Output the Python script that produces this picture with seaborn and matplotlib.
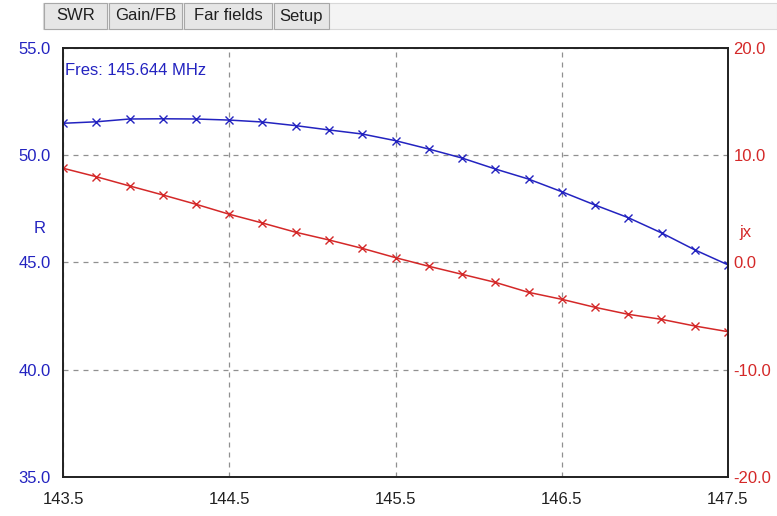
import matplotlib
matplotlib.use("Agg")
import matplotlib.pyplot as plt
import seaborn as sns
import pandas as pd
from matplotlib.patches import Rectangle

# frequency sweep, MHz
freq = [143.5, 143.7, 143.9, 144.1, 144.3, 144.5, 144.7, 144.9, 145.1, 145.3,
        145.5, 145.7, 145.9, 146.1, 146.3, 146.5, 146.7, 146.9, 147.1, 147.3, 147.5]
# resistance R (left axis)
r_vals = [51.49, 51.56, 51.69, 51.70, 51.69, 51.64, 51.55, 51.38, 51.18, 50.99,
          50.68, 50.29, 49.87, 49.36, 48.89, 48.30, 47.68, 47.09, 46.38, 45.59, 44.89]
# reactance jx (right axis)
jx_vals = [8.79, 8.00, 7.14, 6.30, 5.43, 4.50, 3.68, 2.82, 2.10, 1.32,
           0.45, -0.35, -1.10, -1.85, -2.78, -3.43, -4.18, -4.83, -5.30, -5.92, -6.45]

tabs = ["SWR", "Gain/FB", "Far fields", "Setup"]
tab_edges = [43, 108, 183, 273, 330]  # pixel x of tab borders

left_ticks = [35.0, 40.0, 45.0, 50.0, 55.0]
right_ticks = [-20.0, -10.0, 0.0, 10.0, 20.0]
x_ticks = [143.5, 144.5, 145.5, 146.5, 147.5]

blue = "#2323c0"
red = "#d42828"

sns.set_theme(style="white")
plt.rcParams["font.family"] = ["Liberation Sans", "DejaVu Sans"]

W, H = 777, 516
fig = plt.figure(figsize=(W / 100, H / 100), dpi=100)
fig.patch.set_facecolor("white")

# tab strip at the top
fig.add_artist(Rectangle((43 / W, 1 - 29 / H), (W - 43) / W, 26 / H,
                         transform=fig.transFigure, facecolor="#f4f4f4",
                         edgecolor="#d8d8d8", lw=0.8))
for i, name in enumerate(tabs):
    x0, x1 = tab_edges[i], tab_edges[i + 1]
    fig.add_artist(Rectangle((x0 / W + 1 / W, 1 - 29 / H), (x1 - x0 - 2) / W, 26 / H,
                             transform=fig.transFigure, facecolor="#e6e6e6",
                             edgecolor="#a8a8a8", lw=0.8))
    fig.text((x0 + x1) / 2 / W, 1 - 16 / H, name, ha="center", va="center",
             fontsize=12, color="#202020")

ax = fig.add_axes([63 / W, 39 / H, 665 / W, 429 / H])
ax2 = ax.twinx()

df = pd.DataFrame({"freq": freq, "R": r_vals, "jx": jx_vals})
sns.lineplot(data=df, x="freq", y="R", ax=ax, color=blue, lw=1.1,
             marker="x", markersize=6, markeredgewidth=1.0, markeredgecolor=blue)
sns.lineplot(data=df, x="freq", y="jx", ax=ax2, color=red, lw=1.1,
             marker="x", markersize=6, markeredgewidth=1.0, markeredgecolor=red)

ax.set_xlim(143.5, 147.5)
ax.set_ylim(35, 55)
ax2.set_ylim(-20, 20)
ax.set_xticks(x_ticks)
ax.set_xticklabels([f"{v:.1f}" for v in x_ticks], fontsize=12, color="#202020")
ax.set_yticks(left_ticks)
ax.set_yticklabels([f"{v:.1f}" for v in left_ticks], fontsize=12, color=blue)
ax2.set_yticks(right_ticks)
ax2.set_yticklabels([f"{v:.1f}" for v in right_ticks], fontsize=12, color=red)
ax.set_xlabel("")
ax.set_ylabel("")
ax2.set_ylabel("")
ax.tick_params(axis="y", length=0, pad=9)
ax.tick_params(axis="x", length=0, pad=11)
ax2.tick_params(length=0, pad=4)

ax.grid(True, color="#909090", linestyle=(0, (4, 4)), lw=0.9)
for a in (ax, ax2):
    for s in a.spines.values():
        s.set_color("#202020")
        s.set_linewidth(1.2)

ax.text(0.003, 0.965, "Fres: 145.644 MHz", transform=ax.transAxes, color=blue,
        fontsize=12, ha="left", va="top")
ax.text(-0.035, 0.58, "R", transform=ax.transAxes, color=blue, fontsize=12,
        ha="center", va="center")
ax2.text(1.026, 0.569, "jx", transform=ax.transAxes, color=red, fontsize=12,
         ha="center", va="center")

fig.savefig("out.png", dpi=100)
